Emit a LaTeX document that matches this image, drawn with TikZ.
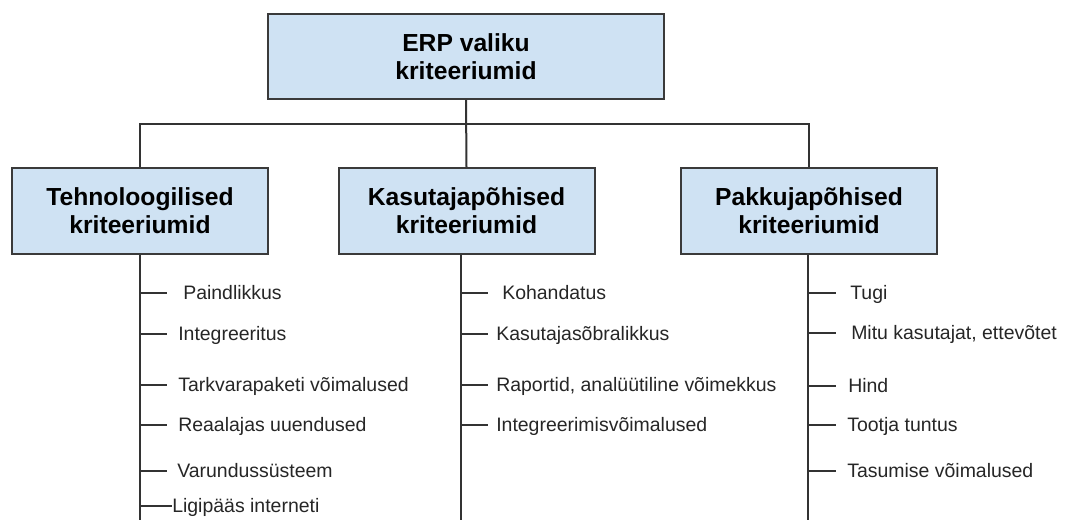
\documentclass[tikz,border=0pt]{standalone}
\usepackage{fontspec}
\setmainfont{Liberation Sans}
\definecolor{boxfill}{HTML}{CFE2F3}
\definecolor{boxline}{HTML}{3A3A3A}
\definecolor{wire}{HTML}{333333}
\begin{document}
\begin{tikzpicture}[x=0.75pt,y=-0.75pt,
  catbox/.style={draw=boxline,line width=1.5pt,fill=boxfill,align=center,
    font=\bfseries\fontsize{18.5}{21}\selectfont,text=black,
    minimum width=192pt,minimum height=64.5pt,inner sep=0pt},
  conn/.style={draw=wire,line width=1.5pt},
  leaf/.style={anchor=west,inner sep=0pt,text height=10.4pt,text depth=0pt,
    font=\fontsize{14.6}{17}\selectfont,text=black!85}]
\useasboundingbox (0,0) rectangle (1065,520);

% main boxes
\node[catbox,minimum width=297pt,minimum height=63.75pt] (top) at (466,56.5) {ERP valiku\\kriteeriumid};
\node[catbox] (tech) at (140,211) {Tehnoloogilised\\kriteeriumid};
\node[catbox] (user) at (466.5,211) {Kasutajapõhised\\kriteeriumid};
\node[catbox] (vend) at (809,211) {Pakkujapõhised\\kriteeriumid};

% tree links
\coordinate (bus) at (466,124);
\draw[conn] (tech.north) |- (bus) -| (vend.north);
\draw[conn] (top.south) -- (user.north);

% vertical trunks below the category boxes
\coordinate (techend) at (140,520);
\coordinate (userend) at (461,520);
\coordinate (vendend) at (808,520);
\draw[conn] (tech.south) -- (techend);
\draw[conn] (user.south -| userend) -- (userend);
\draw[conn] (vend.south -| vendend) -- (vendend);

% technological criteria
\node[leaf] (t1) at (183,293) {Paindlikkus};
\node[leaf] (t2) at (178,334) {Integreeritus};
\node[leaf] (t3) at (178,385) {Tarkvarapaketi võimalused};
\node[leaf] (t4) at (178,425) {Reaalajas uuendused};
\node[leaf] (t5) at (177,471) {Varundussüsteem};
\node[leaf] (t6) at (172,506) {Ligipääs interneti};
\foreach \n in {t1,t2,t3,t4,t5}
  \draw[conn] (\n.west -| techend) -- ++(27,0);
\draw[conn] (t6.west -| techend) -- (t6.west);

% user-based criteria
\node[leaf] (u1) at (502,293) {Kohandatus};
\node[leaf] (u2) at (496,334) {Kasutajasõbralikkus};
\node[leaf] (u3) at (496,385) {Raportid, analüütiline võimekkus};
\node[leaf] (u4) at (496,425) {Integreerimisvõimalused};
\foreach \n in {u1,u2,u3,u4}
  \draw[conn] (\n.west -| userend) -- ++(27,0);

% vendor-based criteria
\node[leaf] (v1) at (850,293) {Tugi};
\node[leaf] (v2) at (851,333) {Mitu kasutajat, ettevõtet};
\node[leaf] (v3) at (848,386) {Hind};
\node[leaf] (v4) at (847,425) {Tootja tuntus};
\node[leaf] (v5) at (847,471) {Tasumise võimalused};
\foreach \n in {v1,v2,v3,v4,v5}
  \draw[conn] (\n.west -| vendend) -- ++(28,0);
\end{tikzpicture}
\end{document}
